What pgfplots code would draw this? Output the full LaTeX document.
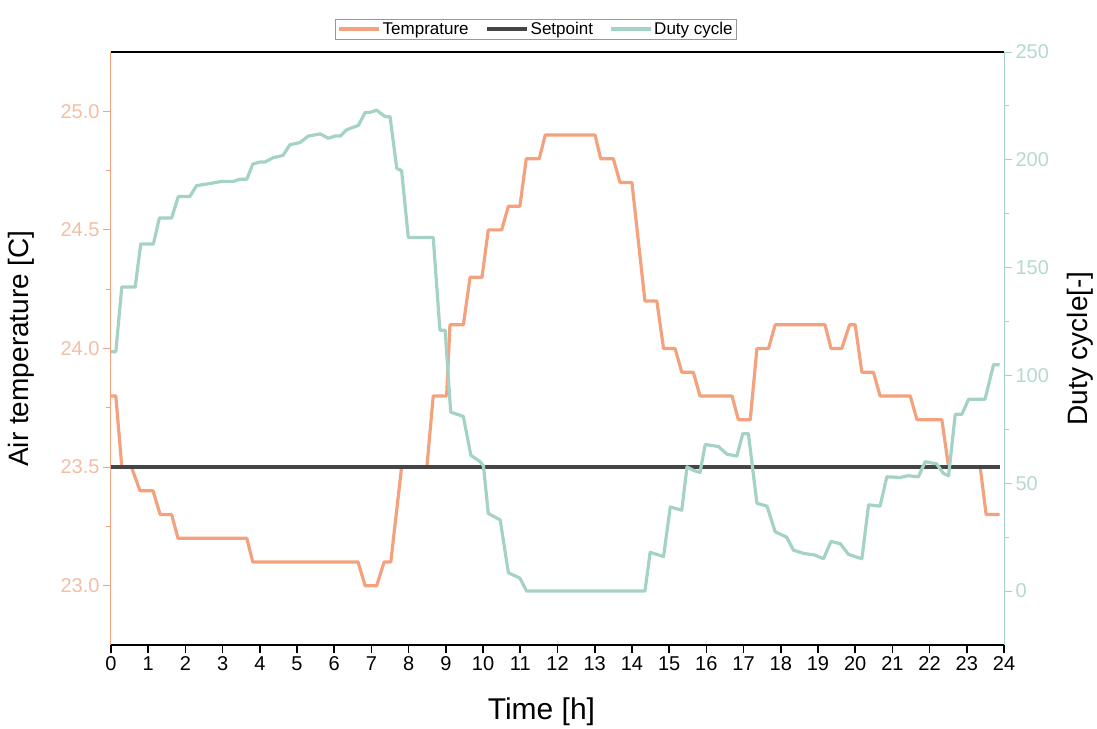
\documentclass[border=0pt]{standalone}
\usepackage{fontspec}
\setmainfont{Liberation Sans}
\usepackage{pgfplots}
\pgfplotsset{compat=1.18}
\definecolor{tempc}{HTML}{F4A27E}
\definecolor{tempTick}{HTML}{F3BEA4}
\definecolor{dutyc}{HTML}{A4D2C7}
\definecolor{dutyTick}{HTML}{B5D9D2}
\definecolor{setc}{HTML}{454545}
\begin{document}
\begin{tikzpicture}
\pgfplotsset{
  common/.style={
    width=893bp, height=593bp, scale only axis, at={(0,0)}, anchor=south west,
    xmin=0, xmax=24,
    /pgf/number format/assume math mode=true,
    tick label style={font=\fontsize{20bp}{24bp}\selectfont},
    label style={font=\fontsize{28bp}{32bp}\selectfont},
    major tick length=8bp, minor tick length=5bp,
    tick align=outside,
    clip=false,
  }
}
\begin{axis}[common,
  axis x line*=bottom, axis y line*=left,
  x axis line style={black, line width=1.6bp, -},
  y axis line style={tempc, line width=1bp, -},
  xtick={0,1,...,24},
  xtick style={black, line width=1.6bp},
  ytick={23,23.5,24,24.5,25},
  minor y tick num=1,
  ytick style={tempc, line width=0.8bp},
  yticklabel style={tempTick, /pgf/number format/.cd, fixed, fixed zerofill, precision=1},
  ymin=22.75, ymax=25.25,
  xlabel={Time [h]}, ylabel={Air temperature [C]},
  xlabel style={at={(axis description cs:0.482,-0.113)}, anchor=center, font=\fontsize{30bp}{34bp}\selectfont},
  ylabel style={at={(axis description cs:-0.1008,0.5)}, anchor=center},
]
\draw[black, line width=1.8bp] (rel axis cs:0,1) -- (rel axis cs:1,1);
\addplot[tempc, line width=3.2bp, line join=round] coordinates {
(0,23.8) (0.13,23.8) (0.29,23.5) (0.55,23.5) (0.78,23.4) (1.13,23.4) (1.32,23.3) (1.63,23.3) (1.80,23.2) (3.65,23.2) (3.81,23.1) (6.64,23.1) (6.83,23.0) (7.14,23.0) (7.34,23.1) (7.52,23.1) (7.81,23.5) (8.49,23.5) (8.66,23.8) (9.02,23.8) (9.11,24.1) (9.47,24.1) (9.65,24.3) (9.97,24.3) (10.14,24.5) (10.50,24.5) (10.68,24.6) (10.99,24.6) (11.16,24.8) (11.51,24.8) (11.67,24.9) (13.01,24.9) (13.16,24.8) (13.50,24.8) (13.68,24.7) (14.00,24.7) (14.35,24.2) (14.67,24.2) (14.85,24.0) (15.16,24.0) (15.34,23.9) (15.65,23.9) (15.83,23.8) (16.69,23.8) (16.86,23.7) (17.18,23.7) (17.36,24.0) (17.67,24.0) (17.85,24.1) (19.19,24.1) (19.35,24.0) (19.64,24.0) (19.85,24.1) (20.00,24.1) (20.18,23.9) (20.49,23.9) (20.67,23.8) (21.48,23.8) (21.66,23.7) (22.33,23.7) (22.51,23.5) (23.36,23.5) (23.52,23.3) (23.88,23.3)
};
\addplot[setc, line width=4bp] coordinates {(0,23.5) (23.9,23.5)};
\end{axis}
\begin{axis}[common,
  axis x line=none, axis y line*=right,
  y axis line style={dutyc, line width=1bp, -},
  ymin=-25, ymax=250,
  ytick={0,50,...,250},
  minor y tick num=1,
  ytick style={dutyc, line width=0.8bp},
  yticklabel style={dutyTick},
  ylabel={Duty cycle[-]},
  ylabel style={at={(axis description cs:1.085,0.5)}, anchor=center},
  legend columns=3,
  legend image code/.code={\draw[#1] (0bp,0bp) -- (40bp,0bp);},
  legend style={at={(axis description cs:0.476,1)}, anchor=south, yshift=12.7bp,
    draw=gray!80, line width=0.6bp, font=\fontsize{17bp}{20bp}\selectfont,
    inner xsep=2bp, inner ysep=1bp,
    /tikz/every even column/.append style={column sep=14bp}},
]
\addlegendimage{tempc, line width=3.2bp}
\addlegendentry{Temprature}
\addlegendimage{setc, line width=4bp}
\addlegendentry{Setpoint}
\addplot[dutyc, line width=3.2bp, line join=round] coordinates {
(0,111) (0.13,111) (0.29,141) (0.65,141) (0.80,161) (1.14,161) (1.30,173) (1.63,173) (1.81,183) (2.12,183) (2.30,188) (2.66,189) (2.98,190) (3.29,190) (3.47,191) (3.65,191) (3.81,198) (4.01,199) (4.14,199) (4.36,201) (4.62,202) (4.81,207) (5.08,208) (5.30,211) (5.62,212) (5.84,210) (6.02,211) (6.16,211) (6.34,214) (6.65,216) (6.83,222) (6.96,222) (7.14,223) (7.37,220) (7.50,220) (7.68,196) (7.81,195) (7.99,164) (8.66,164) (8.84,121) (8.98,121) (9.13,83) (9.47,81) (9.67,63) (9.92,60) (10.01,58) (10.14,36) (10.46,33) (10.68,8.5) (10.99,6) (11.17,0) (14.35,0) (14.49,18) (14.85,16) (15.03,39) (15.34,37.5) (15.48,57.6) (15.65,56) (15.83,55) (15.97,68) (16.33,67) (16.55,63.5) (16.82,62.6) (16.98,73) (17.13,73) (17.36,40.7) (17.63,39.4) (17.85,27.5) (18.16,25) (18.34,19) (18.61,17.5) (18.92,16.7) (19.15,15) (19.35,23) (19.60,22) (19.82,17) (20.18,15) (20.36,40) (20.67,39.4) (20.85,53) (21.21,52.7) (21.43,53.5) (21.70,53) (21.88,60) (22.19,59) (22.37,54.6) (22.51,53.5) (22.69,82) (22.87,82) (23.05,89) (23.49,89) (23.72,105) (23.88,105)
};
\addlegendentry{Duty cycle}
\end{axis}
\pgfresetboundingbox
\path (-111bp,-84bp) rectangle (986bp,645bp);
\end{tikzpicture}
\end{document}
